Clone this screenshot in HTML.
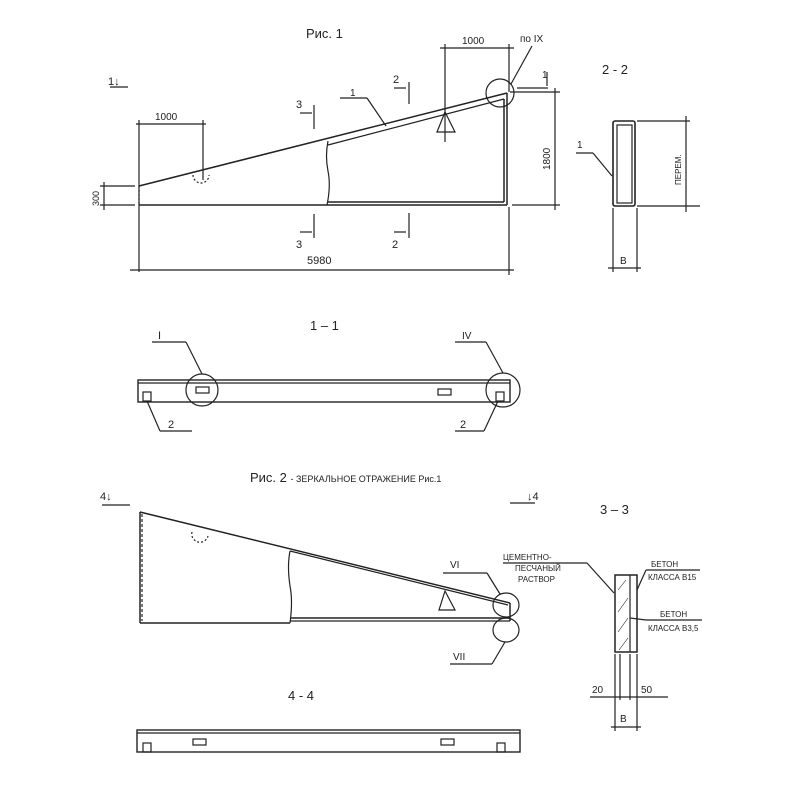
<!DOCTYPE html>
<html><head><meta charset="utf-8"><style>
html,body{margin:0;padding:0;background:#fff;}
svg{display:block;}
text{font-family:"Liberation Sans",sans-serif;fill:#222;}
</style></head><body>
<svg width="800" height="800" viewBox="0 0 800 800" xmlns="http://www.w3.org/2000/svg" stroke="#222" fill="none" stroke-width="1.2">
<!-- Fig 1 -->
<text x="306" y="38" font-size="13" stroke="none">Рис. 1</text>
<text x="108" y="85" font-size="11" stroke="none">1↓</text>
<line x1="110" y1="87" x2="128" y2="87"/>
<!-- main outline -->
<line x1="139" y1="186" x2="507" y2="93" stroke-width="1.5"/>
<line x1="139" y1="205" x2="507" y2="205" stroke-width="1.5"/>
<line x1="507" y1="93" x2="507" y2="205" stroke-width="1.5"/>
<line x1="139" y1="186" x2="139" y2="205" stroke-dasharray="2,2"/>
<line x1="328" y1="145" x2="504" y2="99"/>
<line x1="328" y1="202" x2="504" y2="202" stroke-width="1.5"/>
<line x1="504" y1="99" x2="504" y2="202" stroke-width="1.5"/>
<path d="M328,141 q-3,15 0,30 q3,15 -1,34"/>
<circle cx="500" cy="93" r="14"/>
<path d="M445,112 L437,132 L455,132 Z"/>
<path d="M193,175 a8,8 0 0 0 16,0" stroke-dasharray="2,2"/>
<!-- dims -->
<line x1="445" y1="44" x2="445" y2="142"/>
<line x1="509" y1="44" x2="509" y2="92"/>
<line x1="440" y1="48" x2="514" y2="48"/>
<text x="462" y="44" font-size="10" stroke="none">1000</text>
<line x1="517" y1="88" x2="548" y2="88"/>
<line x1="547" y1="72" x2="547" y2="86"/>
<text x="542" y="78" font-size="10" stroke="none">1</text>
<line x1="511" y1="84" x2="532" y2="46"/>
<text x="520" y="42" font-size="10" stroke="none">по IX</text>
<line x1="510" y1="92" x2="560" y2="92"/>
<line x1="512" y1="205" x2="560" y2="205"/>
<line x1="555" y1="88" x2="555" y2="210"/>
<text x="550" y="170" font-size="10" stroke="none" transform="rotate(-90 550 170)">1800</text>
<line x1="139" y1="120" x2="139" y2="272"/>
<line x1="203" y1="120" x2="203" y2="180"/>
<line x1="136" y1="124" x2="206" y2="124"/>
<text x="155" y="120" font-size="10" stroke="none">1000</text>
<line x1="100" y1="186" x2="135" y2="186"/>
<line x1="100" y1="205" x2="135" y2="205"/>
<line x1="104" y1="182" x2="104" y2="210"/>
<text x="99" y="206" font-size="9" stroke="none" transform="rotate(-90 99 206)">300</text>
<line x1="130" y1="270" x2="514" y2="270"/>
<line x1="509" y1="207" x2="509" y2="275"/>
<text x="307" y="264" font-size="11" stroke="none">5980</text>
<!-- section marks -->
<line x1="314" y1="105" x2="314" y2="129"/><line x1="300" y1="113" x2="312" y2="113"/><text x="296" y="108" font-size="11" stroke="none">3</text>
<line x1="314" y1="214" x2="314" y2="238"/><line x1="300" y1="232" x2="312" y2="232"/><text x="296" y="248" font-size="11" stroke="none">3</text>
<line x1="409" y1="82" x2="409" y2="104"/><line x1="394" y1="88" x2="406" y2="88"/><text x="393" y="83" font-size="11" stroke="none">2</text>
<line x1="409" y1="213" x2="409" y2="238"/><line x1="394" y1="232" x2="406" y2="232"/><text x="392" y="248" font-size="11" stroke="none">2</text>
<line x1="340" y1="98" x2="367" y2="98"/><line x1="367" y1="98" x2="386" y2="126"/><text x="350" y="96" font-size="10" stroke="none">1</text>
<!-- 2-2 -->
<text x="602" y="74" font-size="13" stroke="none">2 - 2</text>
<rect x="613" y="121" width="22" height="85" rx="2" stroke-width="1.6"/>
<rect x="617" y="125" width="15" height="78"/>
<line x1="637" y1="121" x2="690" y2="121"/>
<line x1="637" y1="206" x2="700" y2="206"/>
<line x1="686" y1="116" x2="686" y2="212"/>
<text x="681" y="185" font-size="8" stroke="none" transform="rotate(-90 681 185)">ПЕРЕМ.</text>
<line x1="576" y1="153" x2="593" y2="153"/><line x1="593" y1="153" x2="612" y2="176"/>
<text x="577" y="148" font-size="10" stroke="none">1</text>
<line x1="613" y1="208" x2="613" y2="272"/><line x1="637" y1="208" x2="637" y2="272"/>
<line x1="608" y1="268" x2="641" y2="268"/>
<text x="620" y="264" font-size="10" stroke="none">В</text>
<!-- 1-1 -->
<text x="310" y="330" font-size="13" stroke="none">1 – 1</text>
<rect x="138" y="380" width="372" height="22" stroke-width="1.4"/>
<line x1="138" y1="383" x2="510" y2="383"/>
<rect x="143" y="392" width="8" height="9"/>
<rect x="496" y="392" width="8" height="9"/>
<rect x="196" y="387" width="13" height="6"/>
<rect x="438" y="389" width="13" height="6"/>
<circle cx="202" cy="390" r="16"/>
<circle cx="503" cy="390" r="17"/>
<line x1="152" y1="342" x2="186" y2="342"/><line x1="186" y1="342" x2="202" y2="374"/>
<text x="158" y="339" font-size="11" stroke="none">I</text>
<line x1="455" y1="342" x2="486" y2="342"/><line x1="486" y1="342" x2="503" y2="373"/>
<text x="462" y="339" font-size="10" stroke="none">IV</text>
<line x1="160" y1="431" x2="192" y2="431"/><line x1="160" y1="431" x2="147" y2="401"/>
<text x="168" y="428" font-size="11" stroke="none">2</text>
<line x1="455" y1="431" x2="484" y2="431"/><line x1="484" y1="431" x2="498" y2="401"/>
<text x="460" y="428" font-size="11" stroke="none">2</text>
<!-- Fig 2 -->
<text x="250" y="482" font-size="13" stroke="none">Рис. 2 <tspan font-size="9">- ЗЕРКАЛЬНОЕ ОТРАЖЕНИЕ Рис.1</tspan></text>
<text x="100" y="500" font-size="11" stroke="none">4↓</text>
<line x1="102" y1="505" x2="130" y2="505"/>
<text x="527" y="500" font-size="11" stroke="none">↓4</text>
<line x1="510" y1="503" x2="535" y2="503"/>
<line x1="140" y1="512" x2="510" y2="603" stroke-width="1.5"/>
<line x1="140" y1="512" x2="140" y2="623" stroke-width="1.5"/>
<line x1="142" y1="514" x2="142" y2="621" stroke-dasharray="3,2"/>
<line x1="140" y1="623" x2="290" y2="623" stroke-width="1.5"/>
<line x1="290" y1="551" x2="508" y2="605"/>
<line x1="290" y1="618" x2="510" y2="618" stroke-width="1.5"/>
<line x1="290" y1="621" x2="510" y2="621"/>
<line x1="510" y1="603" x2="510" y2="621" stroke-width="1.5"/>
<path d="M290,551 q-3,15 0,35 q3,15 0,37"/>
<path d="M192,532 a8,8 0 0 0 16,4" stroke-dasharray="2,2"/>
<path d="M445,591 L439,610 L455,610 Z"/>
<ellipse cx="506" cy="605" rx="13" ry="12"/>
<ellipse cx="506" cy="630" rx="13" ry="12"/>
<line x1="443" y1="573" x2="487" y2="573"/><line x1="487" y1="573" x2="500" y2="594"/>
<text x="450" y="568" font-size="10" stroke="none">VI</text>
<line x1="450" y1="664" x2="492" y2="664"/><line x1="492" y1="664" x2="505" y2="642"/>
<text x="453" y="660" font-size="10" stroke="none">VII</text>
<!-- 3-3 -->
<text x="600" y="514" font-size="13" stroke="none">3 – 3</text>
<rect x="615" y="575" width="22" height="77" stroke-width="1.5"/>
<line x1="630" y1="575" x2="630" y2="652"/>
<path d="M618,590 l8,-10 M618,612 l10,-14 M618,632 l10,-14 M619,650 l9,-12" stroke-width="0.6"/>
<line x1="503" y1="563" x2="587" y2="563"/><line x1="587" y1="563" x2="614" y2="593"/>
<text x="503" y="560" font-size="8" stroke="none">ЦЕМЕНТНО-</text>
<text x="515" y="571" font-size="8" stroke="none">ПЕСЧАНЫЙ</text>
<text x="518" y="582" font-size="8" stroke="none">РАСТВОР</text>
<line x1="637" y1="590" x2="646" y2="570"/><line x1="646" y1="570" x2="700" y2="570"/>
<text x="651" y="567" font-size="8" stroke="none">БЕТОН</text>
<text x="648" y="580" font-size="8" stroke="none">КЛАССА В15</text>
<line x1="630" y1="618" x2="646" y2="620"/><line x1="646" y1="620" x2="702" y2="620"/>
<text x="660" y="617" font-size="8" stroke="none">БЕТОН</text>
<text x="648" y="631" font-size="8" stroke="none">КЛАССА В3,5</text>
<line x1="615" y1="654" x2="615" y2="731"/><line x1="620" y1="654" x2="620" y2="700"/><line x1="630" y1="654" x2="630" y2="700"/><line x1="637" y1="654" x2="637" y2="731"/>
<line x1="590" y1="697" x2="668" y2="697"/>
<text x="592" y="693" font-size="10" stroke="none">20</text>
<text x="641" y="693" font-size="10" stroke="none">50</text>
<line x1="611" y1="727" x2="641" y2="727"/>
<text x="620" y="722" font-size="10" stroke="none">В</text>
<!-- 4-4 -->
<text x="288" y="700" font-size="13" stroke="none">4 - 4</text>
<rect x="137" y="730" width="383" height="22" stroke-width="1.4"/>
<line x1="137" y1="733" x2="520" y2="733"/>
<rect x="143" y="743" width="8" height="9"/>
<rect x="497" y="743" width="8" height="9"/>
<rect x="193" y="739" width="13" height="6"/>
<rect x="441" y="739" width="13" height="6"/>
</svg>
</body></html>
